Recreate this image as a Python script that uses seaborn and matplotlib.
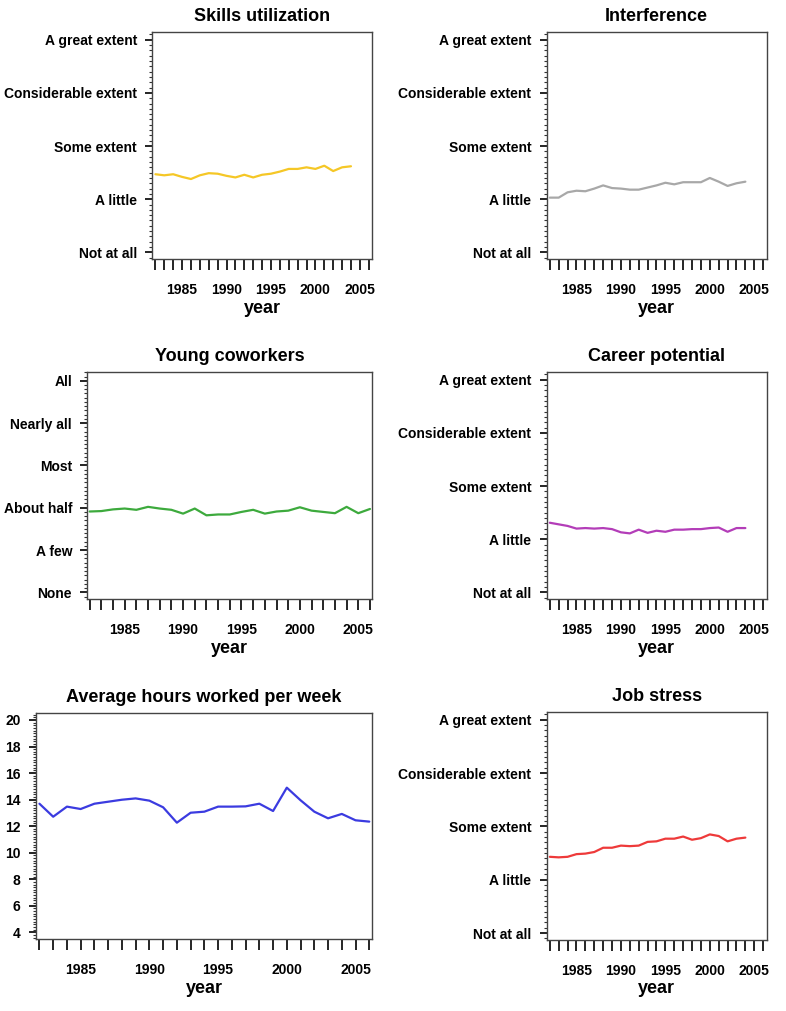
import pandas as pd
import matplotlib
matplotlib.use("Agg")
import matplotlib.pyplot as plt
from matplotlib.ticker import MultipleLocator, FixedLocator
import seaborn as sns

# years covered by each series
years_short = list(range(1982, 2005))
years_long = list(range(1982, 2007))

# category labels for the ordinal scales (1 = lowest)
extent_labels = ["Not at all", "A little", "Some extent", "Considerable extent", "A great extent"]
share_labels = ["None", "A few", "About half", "Most", "Nearly all", "All"]

# values
skills = [2.47, 2.45, 2.47, 2.42, 2.38, 2.45, 2.49, 2.48, 2.44, 2.41, 2.46, 2.41,
          2.46, 2.48, 2.52, 2.57, 2.57, 2.60, 2.57, 2.63, 2.53, 2.60, 2.62]
interference = [2.03, 2.03, 2.13, 2.16, 2.15, 2.20, 2.26, 2.21, 2.20, 2.18, 2.18, 2.22,
                2.26, 2.31, 2.28, 2.32, 2.32, 2.32, 2.40, 2.33, 2.25, 2.30, 2.33]
young = [2.91, 2.92, 2.96, 2.98, 2.95, 3.02, 2.98, 2.95, 2.86, 2.98, 2.82, 2.84, 2.84,
         2.90, 2.95, 2.86, 2.91, 2.93, 3.01, 2.93, 2.90, 2.87, 3.02, 2.87, 2.97]
career = [2.31, 2.28, 2.25, 2.20, 2.21, 2.20, 2.21, 2.19, 2.13, 2.11, 2.18, 2.12,
          2.16, 2.14, 2.18, 2.18, 2.19, 2.19, 2.21, 2.22, 2.14, 2.21, 2.21]
hours = [13.69, 12.71, 13.47, 13.29, 13.69, 13.84, 13.99, 14.09, 13.92, 13.42, 12.26,
         13.01, 13.09, 13.47, 13.47, 13.49, 13.69, 13.14, 14.90, 13.95, 13.09, 12.59,
         12.92, 12.44, 12.34]
stress = [2.43, 2.42, 2.43, 2.48, 2.49, 2.52, 2.60, 2.60, 2.64, 2.63, 2.64, 2.71,
          2.72, 2.77, 2.77, 2.81, 2.75, 2.78, 2.85, 2.82, 2.72, 2.77, 2.79]

sns.set_style("ticks")
plt.rcParams["font.family"] = ["Liberation Sans", "DejaVu Sans"]
plt.rcParams["font.weight"] = "bold"
for key in ["text.color", "axes.labelcolor", "xtick.color", "ytick.color"]:
    plt.rcParams[key] = "black"

fig = plt.figure(figsize=(7.86, 10.11), dpi=100)
W, H = 786, 1011


def make_axes(left, right, top, bottom):
    return fig.add_axes([left / W, 1 - bottom / H, (right - left) / W, (bottom - top) / H])


def draw(ax, years, values, color, title, ylim, xlim, yticks, ylabels, minor):
    df = pd.DataFrame({"year": years, "value": values})
    sns.lineplot(data=df, x="year", y="value", color=color, linewidth=1.6, ax=ax)
    ax.set_xlim(*xlim)
    ax.set_ylim(*ylim)
    ax.xaxis.set_major_locator(FixedLocator(years_long))
    ax.set_xticklabels([str(y) if y % 5 == 0 else "" for y in years_long])
    ax.set_yticks(yticks)
    ax.set_yticklabels(ylabels)
    ax.yaxis.set_minor_locator(MultipleLocator(minor))
    ax.tick_params(axis="x", length=8, width=1.2, pad=9, labelsize=10, colors="black")
    ax.tick_params(axis="y", which="major", length=5, width=1.2, pad=6, labelsize=10,
                   colors="black")
    ax.tick_params(axis="y", which="minor", length=2.5, width=0.8, colors="#333333")
    for lab in ax.get_xticklabels() + ax.get_yticklabels():
        lab.set_fontweight("bold")
    for sp in ax.spines.values():
        sp.set_visible(True)
        sp.set_color("#444444")
        sp.set_linewidth(1.0)
    ax.set_title(title, fontsize=13, fontweight="bold", pad=8, color="black")
    ax.set_xlabel("year", fontsize=13, fontweight="bold", labelpad=2, color="black")
    ax.set_ylabel("")


ext_ticks = [1, 2, 3, 4, 5]
ext_lim = (0.87, 5.14)
x_ext = (1981.65, 2006.4)

ax1 = make_axes(152.3, 372.3, 32.3, 259.3)
draw(ax1, years_short, skills, "#F5C726", "Skills utilization", ext_lim, x_ext,
     ext_ticks, extent_labels, 0.1)

ax2 = make_axes(546.7, 766.7, 32.3, 259.3)
draw(ax2, years_short, interference, "#A8A8A8", "Interference", ext_lim, x_ext,
     ext_ticks, extent_labels, 0.1)

ax3 = make_axes(87.3, 372.3, 372.3, 599.3)
draw(ax3, years_long, young, "#3DAA3D", "Young coworkers", (0.835, 6.2), (1981.8, 2006.2),
     [1, 2, 3, 4, 5, 6], share_labels, 0.1)

ax4 = make_axes(546.7, 766.7, 372.3, 599.3)
draw(ax4, years_short, career, "#B33DB8", "Career potential", ext_lim, x_ext,
     ext_ticks, extent_labels, 0.1)

ax5 = make_axes(36, 372.3, 712.7, 939.3)
draw(ax5, years_long, hours, "#3B3BE0", "Average hours worked per week", (3.47, 20.55),
     (1981.75, 2006.22), list(range(4, 21, 2)), [str(v) for v in range(4, 21, 2)], 0.2)

ax6 = make_axes(546.7, 766.7, 712.3, 940)
draw(ax6, years_short, stress, "#EE3A3A", "Job stress", ext_lim, x_ext,
     ext_ticks, extent_labels, 0.1)

fig.savefig("out.png", dpi=100)
